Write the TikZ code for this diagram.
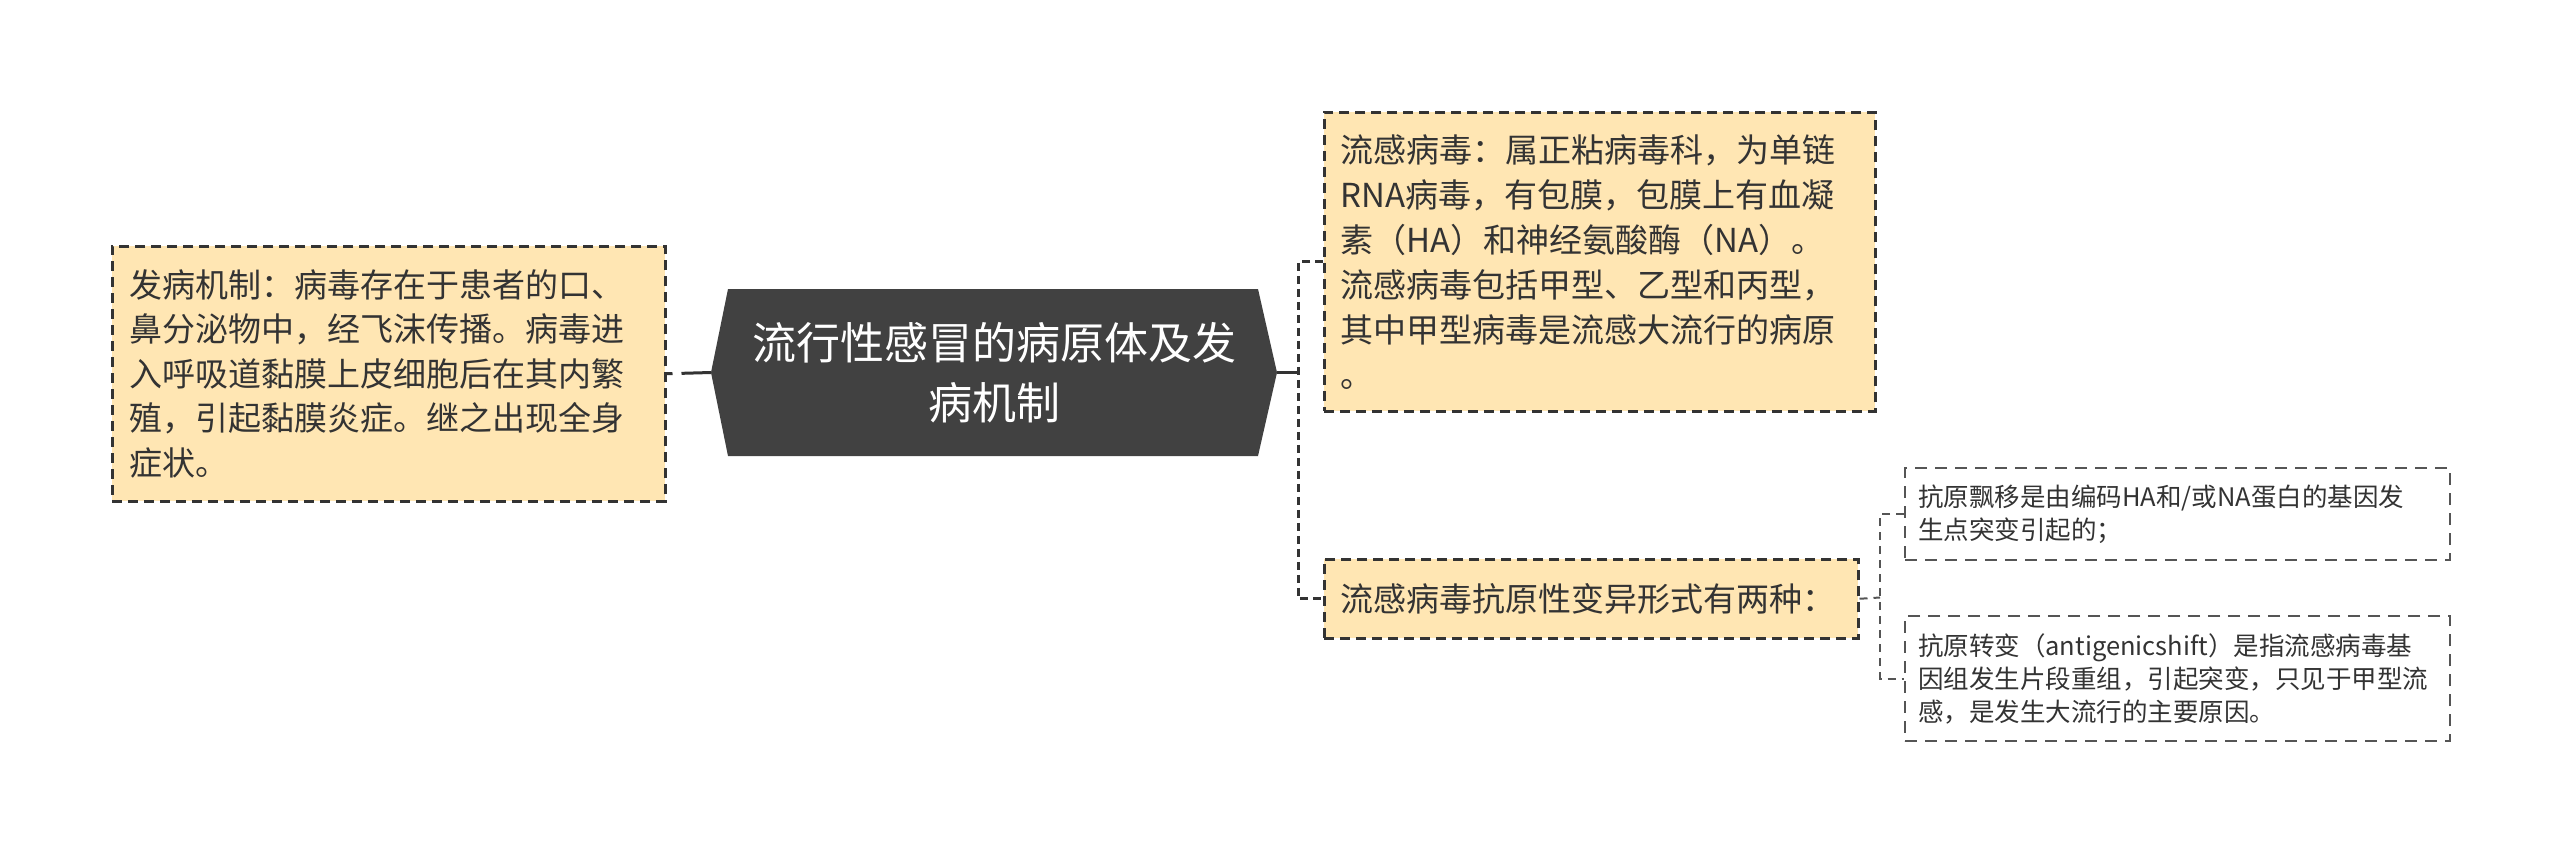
\documentclass[tikz,border=0pt]{standalone}
\usepackage{fontspec}
\setmainfont{Noto Sans CJK SC}
\usetikzlibrary{calc}
\definecolor{boxfill}{HTML}{FFE6B3}
\definecolor{rootfill}{HTML}{414141}
\definecolor{linec}{HTML}{333333}
\definecolor{txtc}{HTML}{333333}
\definecolor{smallline}{HTML}{555555}
\begin{document}
\begin{tikzpicture}[x=1pt,y=-1pt,
  ybox/.style={draw=linec, line width=2.5pt, dash pattern=on 10pt off 6pt, fill=boxfill,
    anchor=north west, align=left, text=txtc, inner ysep=0pt, inner xsep=16pt,
    font=\fontsize{33}{44.5}\selectfont},
  sbox/.style={draw=smallline, line width=2pt, dash pattern=on 12pt off 8pt, fill=white,
    anchor=north west, align=left, text=txtc, inner ysep=0pt, inner xsep=13pt,
    minimum width=545pt, text width=519pt, font=\fontsize{25.5}{33}\selectfont},
  roottext/.style={align=center, text=white, font=\fontsize{44}{60}\selectfont, inner sep=0pt},
  solidc/.style={draw=linec, line width=3pt},
  dconn/.style={draw=linec, line width=3pt, dash pattern=on 8pt off 5pt},
  dconntwo/.style={draw=smallline, line width=2pt, dash pattern=on 8pt off 6pt}
]
\useasboundingbox (0,0) rectangle (2560,852);
\fill[white] (0,0) rectangle (2560,852);

% root
\fill[rootfill] (728,289) -- (1258,289) -- (1277,372.5) -- (1258,456) -- (728,456) -- (711,372.5) -- cycle;
\coordinate (rootW) at (711,372.5);
\coordinate (rootE) at (1277,372.5);
\node[roottext] (root) at (994,373) {流行性感冒的病原体及发\\病机制};

% left box
\node[ybox, minimum width=552pt, minimum height=255pt, text width=519pt, inner xsep=17pt] (left) at (111,245)
 {发病机制：病毒存在于患者的口、\\鼻分泌物中，经飞沫传播。病毒进\\入呼吸道黏膜上皮细胞后在其内繁\\殖，引起黏膜炎症。继之出现全身\\症状。};

% right top box
\node[ybox, minimum width=551pt, minimum height=299pt, text width=519pt, font=\fontsize{33}{45}\selectfont] (rt) at (1323,111)
 {流感病毒：属正粘病毒科，为单链\\RNA病毒，有包膜，包膜上有血凝\\素（HA）和神经氨酸酶（NA）。\\流感病毒包括甲型、乙型和丙型，\\其中甲型病毒是流感大流行的病原\\。};

% right bottom box
\node[ybox, minimum width=534pt, minimum height=79pt, text width=502pt] (rb) at (1323,558)
 {流感病毒抗原性变异形式有两种：};

% small boxes
\node[sbox, minimum height=92pt] (s1) at (1904,467)
 {抗原飘移是由编码HA和/或NA蛋白的基因发\\生点突变引起的；};
\node[sbox, minimum height=125pt] (s2) at (1904,615)
 {抗原转变（antigenicshift）是指流感病毒基\\因组发生片段重组，引起突变，只见于甲型流\\感，是发生大流行的主要原因。};

% connectors
\draw[draw=linec, line width=3pt, dash pattern=on 6pt off 9pt on 60pt off 1pt] (left.east) -- (rootW);
\coordinate (j1) at (1298,372.5);
\draw[solidc] (rootE) -- (j1);
\draw[dconn] (rt.west) -- (rt.west -| j1) |- (rb.west);
\coordinate (j2) at (1880,597.5);
\draw[dconntwo] (rb.east) -- (j2);
\draw[dconntwo] (s1.west) -- (s1.west -| j2) |- (s2.west);
\end{tikzpicture}
\end{document}
